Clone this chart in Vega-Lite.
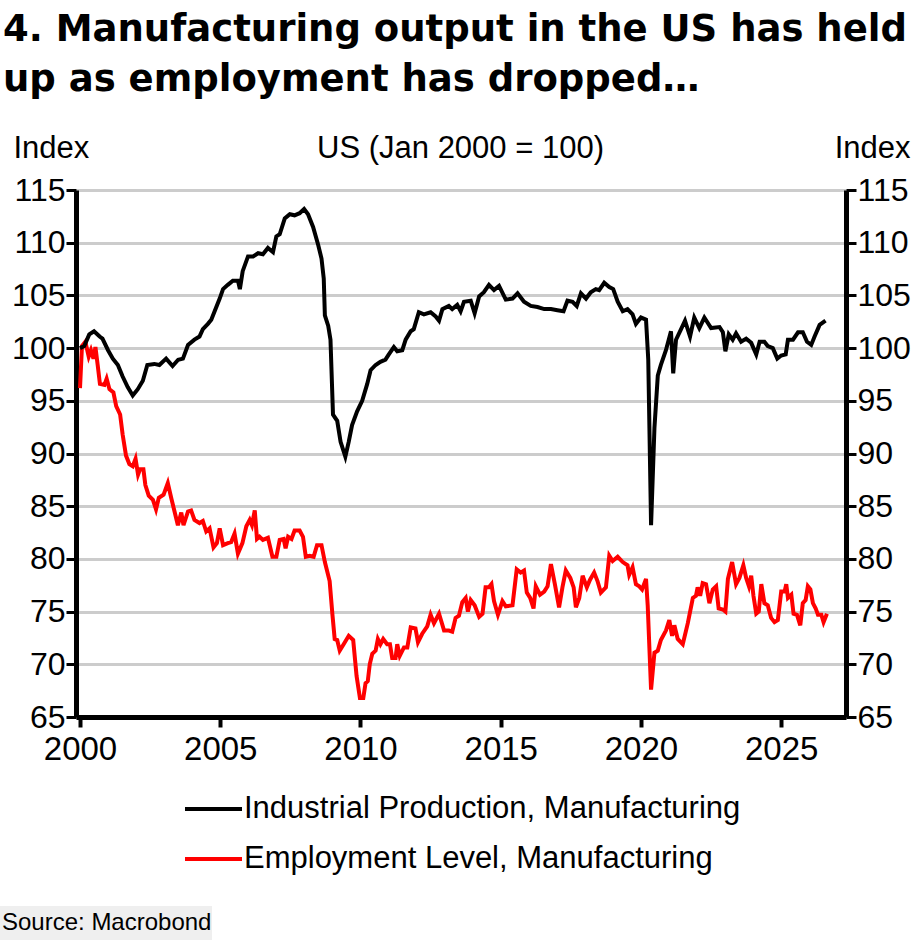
{
  "$schema": "https://vega.github.io/schema/vega-lite/v6.json",
  "width": 770,
  "height": 527,
  "autosize": {"type": "none"},
  "padding": {"left": 76, "top": 190, "right": 74, "bottom": 225},
  "background": "#ffffff",
  "config": {
    "view": {"stroke": null},
    "font": "Liberation Sans"
  },
  "title": {
    "text": ["4. Manufacturing output in the US has held", "up as employment has dropped…"],
    "anchor": "start",
    "frame": "group",
    "dx": -73,
    "font": "DejaVu Sans",
    "fontSize": 37,
    "fontWeight": "bold",
    "lineHeight": 50,
    "color": "#000000",
    "offset": 33
  },
  "datasets": {
    "ip": [
      {"year": 2000.0, "value": 100.0}, {"year": 2000.15, "value": 100.2}, {"year": 2000.33, "value": 101.3},
      {"year": 2000.5, "value": 101.6}, {"year": 2000.7, "value": 101.1}, {"year": 2000.8, "value": 100.9},
      {"year": 2001.0, "value": 99.8}, {"year": 2001.17, "value": 99.0}, {"year": 2001.35, "value": 98.4},
      {"year": 2001.52, "value": 97.3}, {"year": 2001.7, "value": 96.3}, {"year": 2001.88, "value": 95.5},
      {"year": 2002.06, "value": 96.1}, {"year": 2002.24, "value": 96.9}, {"year": 2002.4, "value": 98.4},
      {"year": 2002.65, "value": 98.5}, {"year": 2002.83, "value": 98.4}, {"year": 2003.07, "value": 99.0},
      {"year": 2003.3, "value": 98.3}, {"year": 2003.5, "value": 98.9}, {"year": 2003.67, "value": 99.0},
      {"year": 2003.85, "value": 100.3}, {"year": 2004.08, "value": 100.8}, {"year": 2004.26, "value": 101.1},
      {"year": 2004.38, "value": 101.8}, {"year": 2004.56, "value": 102.3}, {"year": 2004.68, "value": 102.7},
      {"year": 2004.8, "value": 103.5}, {"year": 2004.98, "value": 104.7}, {"year": 2005.1, "value": 105.6},
      {"year": 2005.27, "value": 106.0}, {"year": 2005.45, "value": 106.4}, {"year": 2005.63, "value": 106.4},
      {"year": 2005.7, "value": 105.6}, {"year": 2005.8, "value": 107.3}, {"year": 2005.99, "value": 108.7},
      {"year": 2006.17, "value": 108.7}, {"year": 2006.35, "value": 109.0}, {"year": 2006.52, "value": 108.9},
      {"year": 2006.7, "value": 109.5}, {"year": 2006.88, "value": 109.1}, {"year": 2007.0, "value": 110.6},
      {"year": 2007.12, "value": 110.8}, {"year": 2007.3, "value": 112.3}, {"year": 2007.48, "value": 112.7},
      {"year": 2007.65, "value": 112.6}, {"year": 2007.83, "value": 112.8}, {"year": 2007.99, "value": 113.2},
      {"year": 2008.13, "value": 112.7}, {"year": 2008.31, "value": 111.5}, {"year": 2008.49, "value": 109.8},
      {"year": 2008.61, "value": 108.5}, {"year": 2008.69, "value": 106.6}, {"year": 2008.73, "value": 103.1},
      {"year": 2008.85, "value": 102.1}, {"year": 2008.93, "value": 100.8}, {"year": 2009.02, "value": 93.7},
      {"year": 2009.17, "value": 93.1}, {"year": 2009.29, "value": 91.1}, {"year": 2009.46, "value": 89.7},
      {"year": 2009.58, "value": 91.1}, {"year": 2009.7, "value": 92.7}, {"year": 2009.88, "value": 94.0},
      {"year": 2010.06, "value": 95.0}, {"year": 2010.24, "value": 96.6}, {"year": 2010.36, "value": 97.9},
      {"year": 2010.54, "value": 98.4}, {"year": 2010.71, "value": 98.7}, {"year": 2010.89, "value": 98.9},
      {"year": 2011.01, "value": 99.4}, {"year": 2011.19, "value": 100.1}, {"year": 2011.31, "value": 99.7},
      {"year": 2011.49, "value": 99.8}, {"year": 2011.61, "value": 100.8}, {"year": 2011.79, "value": 101.6},
      {"year": 2011.9, "value": 101.8}, {"year": 2012.08, "value": 103.4}, {"year": 2012.26, "value": 103.2},
      {"year": 2012.5, "value": 103.4}, {"year": 2012.68, "value": 103.0}, {"year": 2012.8, "value": 102.6},
      {"year": 2012.92, "value": 103.7}, {"year": 2013.15, "value": 104.0}, {"year": 2013.27, "value": 103.7},
      {"year": 2013.45, "value": 104.1}, {"year": 2013.57, "value": 103.5}, {"year": 2013.69, "value": 104.4},
      {"year": 2013.93, "value": 104.5}, {"year": 2014.07, "value": 103.3}, {"year": 2014.23, "value": 104.9},
      {"year": 2014.4, "value": 105.3}, {"year": 2014.58, "value": 106.0}, {"year": 2014.76, "value": 105.5},
      {"year": 2014.94, "value": 105.9}, {"year": 2015.18, "value": 104.6}, {"year": 2015.42, "value": 104.7},
      {"year": 2015.6, "value": 105.2}, {"year": 2015.83, "value": 104.4}, {"year": 2016.07, "value": 104.0},
      {"year": 2016.31, "value": 103.9}, {"year": 2016.55, "value": 103.7}, {"year": 2016.79, "value": 103.7},
      {"year": 2017.02, "value": 103.6}, {"year": 2017.24, "value": 103.5}, {"year": 2017.38, "value": 104.5},
      {"year": 2017.56, "value": 104.4}, {"year": 2017.71, "value": 104.0}, {"year": 2017.86, "value": 105.2},
      {"year": 2018.04, "value": 104.7}, {"year": 2018.21, "value": 105.3}, {"year": 2018.39, "value": 105.6},
      {"year": 2018.51, "value": 105.5}, {"year": 2018.69, "value": 106.2}, {"year": 2018.87, "value": 105.8},
      {"year": 2019.01, "value": 105.6}, {"year": 2019.17, "value": 104.4}, {"year": 2019.35, "value": 103.5},
      {"year": 2019.52, "value": 103.7}, {"year": 2019.7, "value": 103.2}, {"year": 2019.82, "value": 102.3},
      {"year": 2020.0, "value": 102.9}, {"year": 2020.18, "value": 102.7}, {"year": 2020.26, "value": 98.9},
      {"year": 2020.36, "value": 83.2}, {"year": 2020.48, "value": 92.4}, {"year": 2020.6, "value": 97.4},
      {"year": 2020.71, "value": 98.4}, {"year": 2020.89, "value": 99.8}, {"year": 2021.07, "value": 101.6},
      {"year": 2021.15, "value": 97.6}, {"year": 2021.25, "value": 100.8}, {"year": 2021.43, "value": 101.8},
      {"year": 2021.57, "value": 102.6}, {"year": 2021.75, "value": 101.1}, {"year": 2021.9, "value": 102.9},
      {"year": 2022.08, "value": 101.9}, {"year": 2022.26, "value": 102.9}, {"year": 2022.5, "value": 101.9},
      {"year": 2022.8, "value": 102.0}, {"year": 2022.92, "value": 101.5}, {"year": 2023.01, "value": 99.7},
      {"year": 2023.13, "value": 101.3}, {"year": 2023.27, "value": 100.8}, {"year": 2023.39, "value": 101.4},
      {"year": 2023.57, "value": 100.6}, {"year": 2023.75, "value": 100.9}, {"year": 2023.93, "value": 100.5},
      {"year": 2024.11, "value": 99.4}, {"year": 2024.23, "value": 100.6}, {"year": 2024.4, "value": 100.6},
      {"year": 2024.52, "value": 100.2}, {"year": 2024.7, "value": 100.0}, {"year": 2024.86, "value": 99.0},
      {"year": 2025.0, "value": 99.3}, {"year": 2025.16, "value": 99.4}, {"year": 2025.24, "value": 100.8},
      {"year": 2025.42, "value": 100.8}, {"year": 2025.6, "value": 101.5}, {"year": 2025.77, "value": 101.5},
      {"year": 2025.92, "value": 100.6}, {"year": 2026.07, "value": 100.3}, {"year": 2026.19, "value": 101.1},
      {"year": 2026.37, "value": 102.2}, {"year": 2026.58, "value": 102.6}
    ],
    "emp": [
      {"year": 2000.0, "value": 96.2}, {"year": 2000.07, "value": 100.2}, {"year": 2000.19, "value": 100.6},
      {"year": 2000.31, "value": 99.2}, {"year": 2000.39, "value": 99.8}, {"year": 2000.48, "value": 99.0},
      {"year": 2000.55, "value": 100.1}, {"year": 2000.63, "value": 98.4}, {"year": 2000.71, "value": 96.6},
      {"year": 2000.87, "value": 96.5}, {"year": 2000.95, "value": 97.1}, {"year": 2001.05, "value": 96.1},
      {"year": 2001.19, "value": 95.8}, {"year": 2001.29, "value": 94.5}, {"year": 2001.43, "value": 93.7},
      {"year": 2001.52, "value": 91.8}, {"year": 2001.64, "value": 89.8}, {"year": 2001.76, "value": 89.0},
      {"year": 2001.88, "value": 88.8}, {"year": 2001.98, "value": 89.5}, {"year": 2002.07, "value": 88.0},
      {"year": 2002.14, "value": 88.5}, {"year": 2002.26, "value": 88.5}, {"year": 2002.33, "value": 87.0},
      {"year": 2002.45, "value": 86.0}, {"year": 2002.6, "value": 85.6}, {"year": 2002.71, "value": 84.7},
      {"year": 2002.81, "value": 85.8}, {"year": 2002.98, "value": 86.1}, {"year": 2003.13, "value": 87.2},
      {"year": 2003.25, "value": 85.8}, {"year": 2003.37, "value": 84.5}, {"year": 2003.49, "value": 83.2},
      {"year": 2003.61, "value": 84.4}, {"year": 2003.69, "value": 83.2}, {"year": 2003.85, "value": 84.5},
      {"year": 2003.96, "value": 84.6}, {"year": 2004.08, "value": 83.7}, {"year": 2004.26, "value": 83.4},
      {"year": 2004.38, "value": 83.6}, {"year": 2004.5, "value": 82.6}, {"year": 2004.62, "value": 82.9},
      {"year": 2004.76, "value": 81.1}, {"year": 2004.88, "value": 81.5}, {"year": 2004.98, "value": 82.9},
      {"year": 2005.1, "value": 81.3}, {"year": 2005.27, "value": 81.5}, {"year": 2005.39, "value": 81.6},
      {"year": 2005.51, "value": 82.4}, {"year": 2005.63, "value": 80.5}, {"year": 2005.79, "value": 81.5},
      {"year": 2005.93, "value": 83.1}, {"year": 2006.05, "value": 83.7}, {"year": 2006.13, "value": 83.2},
      {"year": 2006.23, "value": 84.6}, {"year": 2006.31, "value": 81.9}, {"year": 2006.4, "value": 82.1},
      {"year": 2006.52, "value": 81.8}, {"year": 2006.7, "value": 82.0}, {"year": 2006.86, "value": 80.2},
      {"year": 2007.0, "value": 80.2}, {"year": 2007.12, "value": 81.8}, {"year": 2007.26, "value": 81.9},
      {"year": 2007.33, "value": 81.0}, {"year": 2007.42, "value": 82.1}, {"year": 2007.54, "value": 81.9},
      {"year": 2007.65, "value": 82.7}, {"year": 2007.83, "value": 82.7}, {"year": 2007.95, "value": 82.1},
      {"year": 2008.05, "value": 80.2}, {"year": 2008.19, "value": 80.3}, {"year": 2008.33, "value": 80.2},
      {"year": 2008.45, "value": 81.3}, {"year": 2008.61, "value": 81.3}, {"year": 2008.73, "value": 79.7},
      {"year": 2008.9, "value": 77.9}, {"year": 2009.0, "value": 74.7}, {"year": 2009.08, "value": 72.4},
      {"year": 2009.17, "value": 72.3}, {"year": 2009.26, "value": 71.3}, {"year": 2009.4, "value": 71.9},
      {"year": 2009.58, "value": 72.7}, {"year": 2009.74, "value": 72.3}, {"year": 2009.86, "value": 68.9},
      {"year": 2009.98, "value": 66.8}, {"year": 2010.1, "value": 66.8}, {"year": 2010.18, "value": 68.2},
      {"year": 2010.26, "value": 68.4}, {"year": 2010.33, "value": 70.0}, {"year": 2010.42, "value": 71.0},
      {"year": 2010.54, "value": 71.3}, {"year": 2010.62, "value": 72.4}, {"year": 2010.71, "value": 71.9},
      {"year": 2010.81, "value": 72.4}, {"year": 2010.95, "value": 71.9}, {"year": 2011.05, "value": 71.9},
      {"year": 2011.13, "value": 70.6}, {"year": 2011.25, "value": 70.6}, {"year": 2011.31, "value": 71.9},
      {"year": 2011.4, "value": 70.8}, {"year": 2011.55, "value": 71.6}, {"year": 2011.67, "value": 71.6},
      {"year": 2011.79, "value": 73.5}, {"year": 2011.96, "value": 73.4}, {"year": 2012.05, "value": 72.1},
      {"year": 2012.2, "value": 72.9}, {"year": 2012.38, "value": 73.6}, {"year": 2012.5, "value": 74.7},
      {"year": 2012.62, "value": 73.9}, {"year": 2012.8, "value": 74.8}, {"year": 2012.98, "value": 73.2},
      {"year": 2013.15, "value": 73.2}, {"year": 2013.27, "value": 73.1}, {"year": 2013.39, "value": 74.4},
      {"year": 2013.51, "value": 74.6}, {"year": 2013.63, "value": 75.9}, {"year": 2013.75, "value": 76.3},
      {"year": 2013.83, "value": 75.0}, {"year": 2013.93, "value": 76.1}, {"year": 2014.07, "value": 75.6},
      {"year": 2014.23, "value": 74.5}, {"year": 2014.35, "value": 74.8}, {"year": 2014.46, "value": 77.3},
      {"year": 2014.58, "value": 77.3}, {"year": 2014.67, "value": 77.6}, {"year": 2014.76, "value": 76.0},
      {"year": 2014.9, "value": 74.7}, {"year": 2015.06, "value": 76.0}, {"year": 2015.18, "value": 75.5},
      {"year": 2015.42, "value": 75.6}, {"year": 2015.57, "value": 79.0}, {"year": 2015.71, "value": 78.7},
      {"year": 2015.83, "value": 78.9}, {"year": 2015.93, "value": 76.8}, {"year": 2016.05, "value": 76.3},
      {"year": 2016.17, "value": 75.3}, {"year": 2016.25, "value": 77.4}, {"year": 2016.4, "value": 76.6},
      {"year": 2016.55, "value": 76.9}, {"year": 2016.67, "value": 77.4}, {"year": 2016.79, "value": 79.5},
      {"year": 2016.93, "value": 77.6}, {"year": 2017.08, "value": 75.4}, {"year": 2017.2, "value": 77.3},
      {"year": 2017.32, "value": 78.9}, {"year": 2017.48, "value": 78.2}, {"year": 2017.6, "value": 77.3},
      {"year": 2017.68, "value": 75.4}, {"year": 2017.8, "value": 76.3}, {"year": 2017.92, "value": 78.4},
      {"year": 2018.07, "value": 77.3}, {"year": 2018.18, "value": 78.0}, {"year": 2018.33, "value": 78.7},
      {"year": 2018.45, "value": 77.9}, {"year": 2018.57, "value": 76.8}, {"year": 2018.75, "value": 77.3},
      {"year": 2018.87, "value": 80.3}, {"year": 2018.99, "value": 79.8}, {"year": 2019.17, "value": 80.2},
      {"year": 2019.35, "value": 79.7}, {"year": 2019.52, "value": 79.4}, {"year": 2019.58, "value": 78.5},
      {"year": 2019.7, "value": 79.2}, {"year": 2019.82, "value": 77.6}, {"year": 2019.94, "value": 77.4},
      {"year": 2020.04, "value": 77.1}, {"year": 2020.18, "value": 78.1}, {"year": 2020.24, "value": 75.6},
      {"year": 2020.36, "value": 67.6}, {"year": 2020.48, "value": 71.1}, {"year": 2020.6, "value": 71.3},
      {"year": 2020.71, "value": 72.3}, {"year": 2020.89, "value": 73.2}, {"year": 2021.01, "value": 74.2},
      {"year": 2021.11, "value": 72.7}, {"year": 2021.19, "value": 73.7}, {"year": 2021.31, "value": 72.4},
      {"year": 2021.49, "value": 71.9}, {"year": 2021.67, "value": 73.9}, {"year": 2021.85, "value": 76.3},
      {"year": 2021.96, "value": 76.5}, {"year": 2022.02, "value": 77.3}, {"year": 2022.11, "value": 76.5},
      {"year": 2022.2, "value": 77.7}, {"year": 2022.32, "value": 77.6}, {"year": 2022.44, "value": 75.8},
      {"year": 2022.56, "value": 77.1}, {"year": 2022.68, "value": 77.4}, {"year": 2022.77, "value": 75.3},
      {"year": 2022.92, "value": 75.2}, {"year": 2023.01, "value": 75.0}, {"year": 2023.1, "value": 78.1},
      {"year": 2023.25, "value": 79.7}, {"year": 2023.39, "value": 77.6}, {"year": 2023.51, "value": 78.2},
      {"year": 2023.65, "value": 79.4}, {"year": 2023.75, "value": 78.2}, {"year": 2023.85, "value": 77.4},
      {"year": 2023.93, "value": 78.4}, {"year": 2024.01, "value": 76.5}, {"year": 2024.11, "value": 74.8},
      {"year": 2024.2, "value": 75.0}, {"year": 2024.29, "value": 77.6}, {"year": 2024.4, "value": 75.8},
      {"year": 2024.52, "value": 75.6}, {"year": 2024.64, "value": 74.4}, {"year": 2024.76, "value": 74.0},
      {"year": 2024.88, "value": 74.2}, {"year": 2025.0, "value": 76.9}, {"year": 2025.12, "value": 76.9},
      {"year": 2025.18, "value": 77.6}, {"year": 2025.24, "value": 76.3}, {"year": 2025.36, "value": 76.6},
      {"year": 2025.44, "value": 74.8}, {"year": 2025.56, "value": 74.7}, {"year": 2025.68, "value": 73.7},
      {"year": 2025.77, "value": 75.8}, {"year": 2025.87, "value": 76.1}, {"year": 2025.95, "value": 77.4},
      {"year": 2026.04, "value": 77.1}, {"year": 2026.13, "value": 75.8}, {"year": 2026.23, "value": 75.3},
      {"year": 2026.31, "value": 74.7}, {"year": 2026.43, "value": 74.7}, {"year": 2026.51, "value": 74.0},
      {"year": 2026.63, "value": 74.8}
    ]
  },
  "layer": [
    {
      "data": {"name": "ip"},
      "mark": {"type": "line", "opacity": 0},
      "encoding": {
        "x": {
          "field": "year", "type": "quantitative",
          "scale": {"domain": [1999.857, 2027.31], "nice": false, "zero": false},
          "axis": {
            "orient": "top", "labels": false, "ticks": false, "domain": false, "grid": false,
            "title": "US (Jan 2000 = 100)", "titleAngle": 0, "titleX": 384, "titleY": -33,
            "titleAlign": "center", "titleBaseline": "alphabetic",
            "titleFontSize": 31, "titleFontWeight": "normal", "titleColor": "#000000"
          }
        },
        "y": {
          "field": "value", "type": "quantitative",
          "scale": {"domain": [65, 115], "nice": false, "zero": false},
          "axis": {
            "orient": "right", "values": [65, 70, 75, 80, 85, 90, 95, 100, 105, 110, 115], "grid": false,
            "domainColor": "#000000", "domainWidth": 5, "tickColor": "#000000", "tickWidth": 3, "tickSize": 10,
            "labelFontSize": 32, "labelColor": "#000000", "labelPadding": 1,
            "title": "Index", "titleAngle": 0, "titleX": 64, "titleY": -33,
            "titleAlign": "right", "titleBaseline": "alphabetic",
            "titleFontSize": 31, "titleFontWeight": "normal", "titleColor": "#000000"
          }
        },
        "strokeDash": {
          "datum": "Source: Macrobond", "type": "nominal",
          "legend": {
            "orient": "none", "legendX": -76, "legendY": 716, "title": null,
            "fillColor": "#efefef", "padding": 0, "symbolSize": 0, "symbolOpacity": 0, "symbolStrokeWidth": 0,
            "labelFontSize": 24, "labelColor": "#000000", "labelOffset": -22, "labelLimit": 400, "clipHeight": 34
          }
        }
      }
    },
    {
      "encoding": {
        "x": {
          "field": "year", "type": "quantitative",
          "scale": {"domain": [1999.857, 2027.31], "nice": false, "zero": false},
          "axis": {
            "orient": "bottom", "values": [2000, 2005, 2010, 2015, 2020, 2025], "format": "d",
            "labelFlush": false, "labelOverlap": false, "grid": false,
            "domainColor": "#000000", "domainWidth": 5, "tickColor": "#000000", "tickWidth": 4, "tickSize": 10,
            "labelFontSize": 33, "labelColor": "#000000", "labelPadding": 6, "title": null
          }
        },
        "y": {
          "field": "value", "type": "quantitative",
          "scale": {"domain": [65, 115], "nice": false, "zero": false},
          "axis": {
            "orient": "left", "values": [65, 70, 75, 80, 85, 90, 95, 100, 105, 110, 115],
            "grid": true, "gridColor": "#cccccc", "gridWidth": 3,
            "domainColor": "#000000", "domainWidth": 5, "tickColor": "#000000", "tickWidth": 3, "tickSize": 10,
            "labelFontSize": 32, "labelColor": "#000000", "labelPadding": 1,
            "title": "Index", "titleAngle": 0, "titleX": -63, "titleY": -33,
            "titleAlign": "left", "titleBaseline": "alphabetic",
            "titleFontSize": 31, "titleFontWeight": "normal", "titleColor": "#000000"
          }
        },
        "color": {
          "type": "nominal",
          "scale": {
            "domain": ["Industrial Production, Manufacturing", "Employment Level, Manufacturing"],
            "range": ["#000000", "#ff0000"]
          },
          "legend": {
            "orient": "none", "legendX": 107, "legendY": 599, "direction": "vertical", "title": null,
            "symbolType": "stroke", "symbolSize": 3249, "symbolStrokeWidth": 4,
            "labelFontSize": 31, "labelColor": "#000000", "labelLimit": 700, "labelOffset": 0,
            "clipHeight": 40, "rowPadding": 10, "padding": 0
          }
        }
      },
      "layer": [
        {
          "data": {"name": "emp"},
          "mark": {"type": "line", "strokeWidth": 4},
          "encoding": {"color": {"datum": "Employment Level, Manufacturing", "type": "nominal"}}
        },
        {
          "data": {"name": "ip"},
          "mark": {"type": "line", "strokeWidth": 4},
          "encoding": {"color": {"datum": "Industrial Production, Manufacturing", "type": "nominal"}}
        }
      ]
    }
  ],
  "resolve": {"scale": {"x": "independent", "y": "independent"}}
}
